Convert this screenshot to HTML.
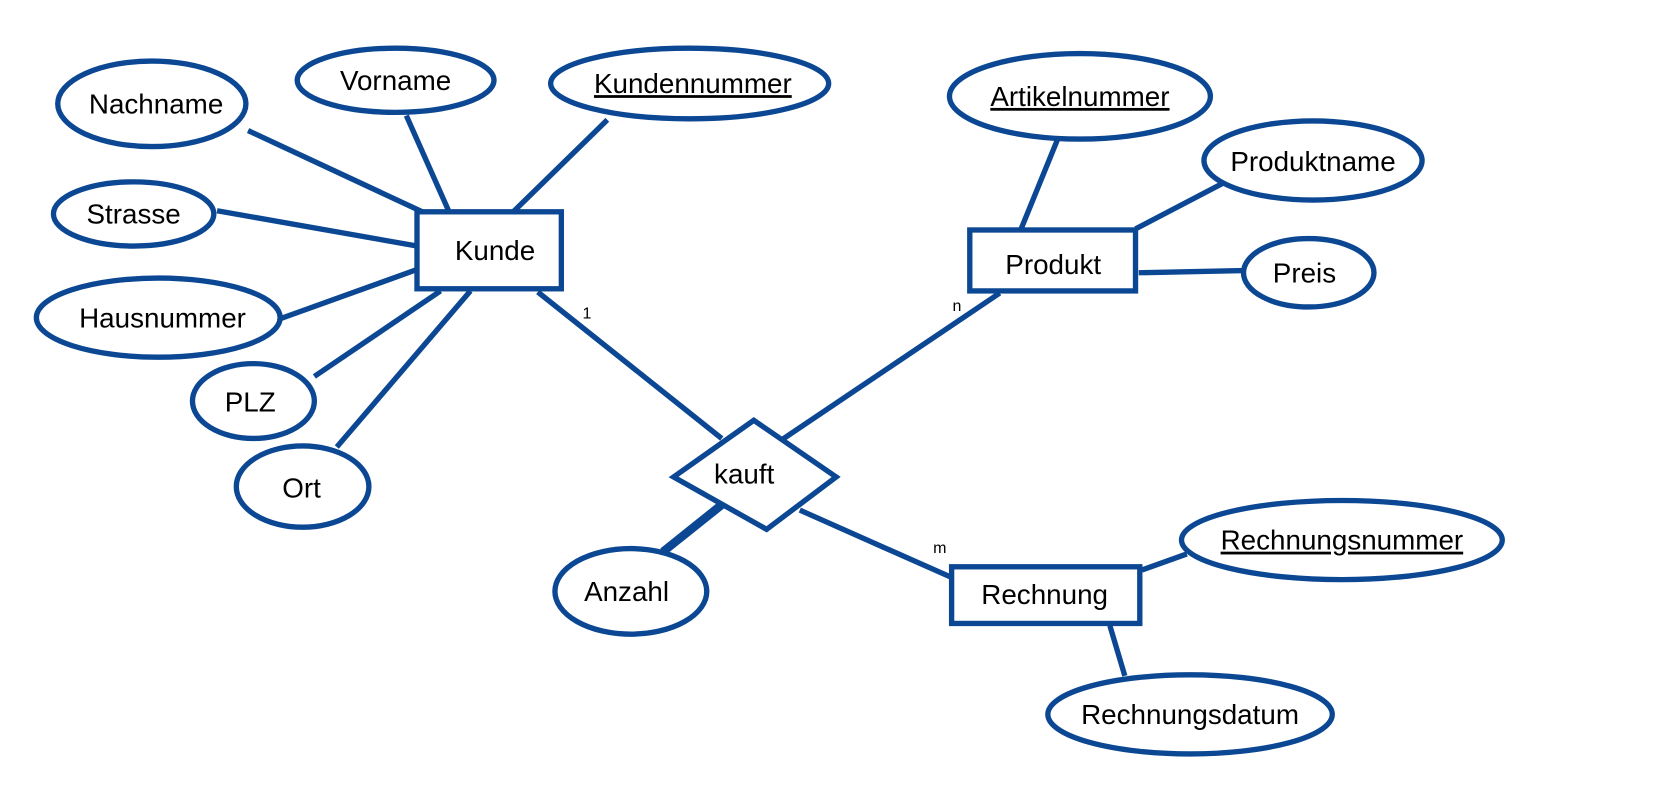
<!DOCTYPE html>
<html><head><meta charset="utf-8"><style>
html,body{margin:0;padding:0;background:#fff;}
svg{display:block;}
text{font-family:"Liberation Sans",Arial,sans-serif;fill:#000;}
</style></head><body>
<svg width="1668" height="785" viewBox="0 0 1560 734" xmlns="http://www.w3.org/2000/svg">
<g stroke="#0b4793" stroke-width="5" fill="none" stroke-linecap="butt">
<line x1="232" y1="122" x2="395" y2="198"/>
<line x1="380" y1="108" x2="420" y2="198"/>
<line x1="568" y1="112" x2="480" y2="198"/>
<line x1="203" y1="197" x2="390" y2="230"/>
<line x1="262" y1="298" x2="390" y2="252"/>
<line x1="294" y1="352" x2="412" y2="272"/>
<line x1="315" y1="418" x2="440" y2="272"/>
<line x1="503" y1="273" x2="675" y2="410"/>
<line x1="730" y1="412" x2="935" y2="274"/>
<line x1="748" y1="477" x2="890" y2="540"/>
<line x1="675" y1="472" x2="620" y2="516" stroke-width="8"/>
<line x1="990" y1="128" x2="955" y2="214"/>
<line x1="1150" y1="168" x2="1062" y2="214"/>
<line x1="1163" y1="253" x2="1065" y2="255"/>
<line x1="1110" y1="518" x2="1068" y2="533"/>
<line x1="1038" y1="585" x2="1052" y2="632"/>
</g>
<g stroke="#0b4793" stroke-width="5" fill="#fff">
<ellipse cx="142" cy="97" rx="88" ry="40"/>
<ellipse cx="370" cy="75" rx="92" ry="30"/>
<ellipse cx="645" cy="78" rx="130" ry="33"/>
<ellipse cx="125" cy="200" rx="75" ry="30"/>
<ellipse cx="148" cy="297" rx="114" ry="37"/>
<ellipse cx="237" cy="375" rx="57" ry="35"/>
<ellipse cx="283" cy="455" rx="62" ry="38"/>
<ellipse cx="1010" cy="90" rx="122" ry="40"/>
<ellipse cx="1228" cy="150" rx="102" ry="37"/>
<ellipse cx="1224" cy="255" rx="61" ry="32"/>
<ellipse cx="590" cy="553" rx="71" ry="40"/>
<ellipse cx="1255" cy="505" rx="150" ry="37"/>
<ellipse cx="1113" cy="668" rx="133" ry="37"/>
<rect x="390" y="198" width="135" height="72"/>
<rect x="907" y="215" width="155" height="57"/>
<rect x="890" y="530" width="176" height="53"/>
<polygon points="705,393 782,446 717,495 630,446"/>
</g>
<g font-size="26" text-anchor="middle">
<text x="146" y="106">Nachname</text>
<text x="370" y="84">Vorname</text>
<text x="648" y="87" text-decoration="underline">Kundennummer</text>
<text x="125" y="209">Strasse</text>
<text x="152" y="306">Hausnummer</text>
<text x="234" y="385">PLZ</text>
<text x="282" y="465">Ort</text>
<text x="463" y="243">Kunde</text>
<text x="1010" y="99" text-decoration="underline">Artikelnummer</text>
<text x="1228" y="160">Produktname</text>
<text x="1220" y="264">Preis</text>
<text x="985" y="256">Produkt</text>
<text x="696" y="452">kauft</text>
<text x="586" y="562">Anzahl</text>
<text x="977" y="565">Rechnung</text>
<text x="1255" y="514" text-decoration="underline">Rechnungsnummer</text>
<text x="1113" y="677">Rechnungsdatum</text>
</g>
<g font-size="15" text-anchor="middle">
<text x="549" y="298">1</text>
<text x="895" y="291">n</text>
<text x="879" y="517">m</text>
</g>
</svg>
</body></html>
